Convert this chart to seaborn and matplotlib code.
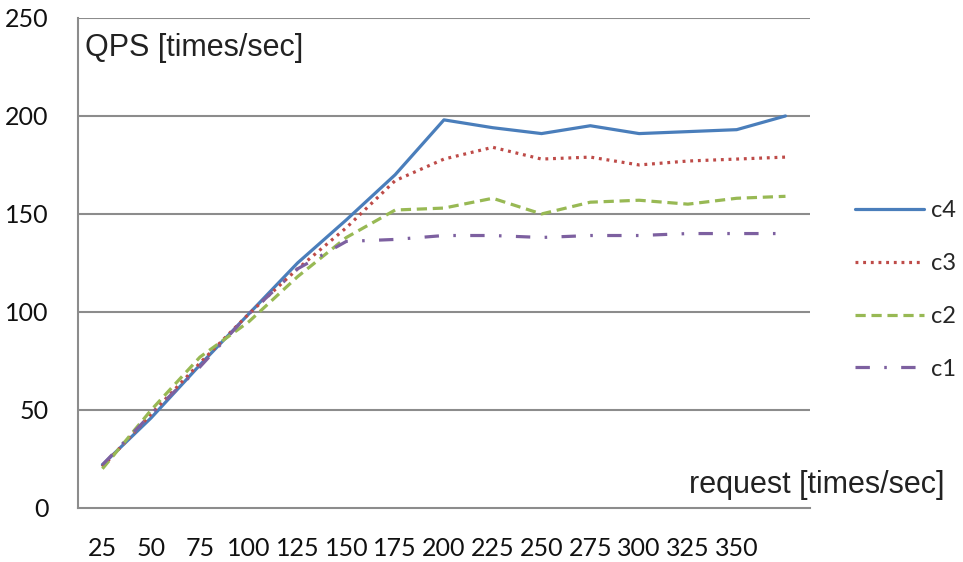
import pandas as pd
import seaborn as sns
import matplotlib.pyplot as plt

# request rate categories (x axis)
request = [25, 50, 75, 100, 125, 150, 175, 200, 225, 250, 275, 300, 325, 350, 375]
tick_labels = ["25", "50", "75", "100", "125", "150", "175", "200", "225",
               "250", "275", "300", "325", "350", ""]

# QPS per configuration
c4 = [22, 46, 73, 99, 125, 147, 170, 198, 194, 191, 195, 191, 192, 193, 200]
c3 = [21, 48, 74, 99, 122, 143, 167, 178, 184, 178, 179, 175, 177, 178, 179]
c2 = [20, 50, 77, 95, 118, 138, 152, 153, 158, 150, 156, 157, 155, 158, 159]
c1 = [22, 48, 72, 99, 122, 136, 137, 139, 139, 138, 139, 139, 140, 140, 140]

series = {"c4": c4, "c3": c3, "c2": c2, "c1": c1}
palette = {"c4": "#4a7ebb", "c3": "#be4b48", "c2": "#98b954", "c1": "#7d60a0"}
dashes = {"c4": "", "c3": (0.9, 1.5), "c2": (3.2, 1.8), "c1": (4.5, 4.5, 0.8, 4.5)}

rows = []
for name, vals in series.items():
    for i, (r, v) in enumerate(zip(request, vals)):
        rows.append({"pos": i, "request": r, "qps": v, "config": name})
df = pd.DataFrame(rows)

sns.set_style("white")
plt.rcParams["font.family"] = ["Lato", "DejaVu Sans"]

fig = plt.figure(figsize=(9.63, 5.62), dpi=100)
ax = fig.add_axes([0.081, 0.0961, 0.760, 0.872])

grid_col = "#8c8c8c"
for y in [50, 100, 150, 200, 250]:
    ax.axhline(y, color=grid_col, lw=1.5, zorder=0)

sns.lineplot(data=df, x="pos", y="qps", hue="config", style="config",
             palette=palette, dashes=dashes, hue_order=["c4", "c3", "c2", "c1"],
             linewidth=2.3, ax=ax, sort=False, legend=True)

ax.set_xlim(-0.5, len(request) - 0.5)
ax.set_ylim(0, 250)
ax.set_xlabel("")
ax.set_ylabel("")

# x: labels at category centres, tick marks at category boundaries
ax.set_xticks(range(len(request)))
ax.set_xticklabels(tick_labels, fontsize=18, color="#111111")
ax.set_xticks([i - 0.5 for i in range(len(request) + 1)], minor=True)
ax.tick_params(axis="x", which="major", length=0, pad=21)
ax.tick_params(axis="x", which="minor", length=7, width=1.5, color=grid_col,
               direction="out")

ax.set_yticks([0, 50, 100, 150, 200, 250])
ax.tick_params(axis="y", length=10, width=1.5, color=grid_col, direction="out",
               pad=11, labelsize=18, labelcolor="#111111")

for side in ["top", "right"]:
    ax.spines[side].set_visible(False)
for side in ["left", "bottom"]:
    ax.spines[side].set_color(grid_col)
    ax.spines[side].set_linewidth(1.5)

ax.text(0.01, 0.939, "QPS [times/sec]", transform=ax.transAxes, ha="left",
        va="center", fontsize=22, family=["Liberation Sans", "DejaVu Sans"],
        color="#222222")
ax.text(1.184, 0.047, "request [times/sec]", transform=ax.transAxes, ha="right",
        va="center", fontsize=22, family=["Liberation Sans", "DejaVu Sans"],
        color="#222222", clip_on=False)

ax.legend(loc="center left", bbox_to_anchor=(1.033, 0.445), frameon=False,
          fontsize=17, handlelength=2.9, handletextpad=0.3, labelspacing=1.35,
          title=None)

fig.savefig("out.png", dpi=100)
